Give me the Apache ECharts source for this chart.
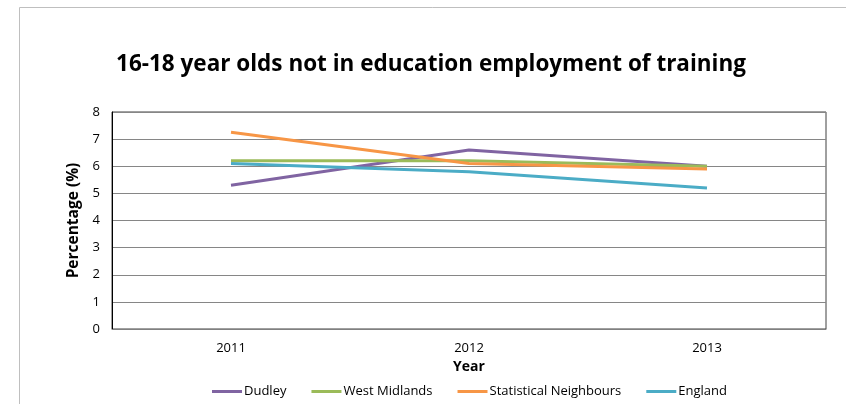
<!DOCTYPE html>
<html>
<head>
<meta charset="utf-8">
<script src="https://cdn.jsdelivr.net/npm/echarts@6/dist/echarts.min.js"></script>
<style>
html,body{margin:0;padding:0;background:#fff;}
#c{width:846px;height:404px;}
</style>
</head>
<body>
<div id="c"></div>
<script>
var years = ['2011', '2012', '2013'];
var dudley = [5.3, 6.6, 6.0];
var westMidlands = [6.2, 6.2, 6.0];
var statNeighbours = [7.25, 6.1, 5.9];
var england = [6.1, 5.8, 5.2];
var seriesNames = ['Dudley', 'West Midlands', 'Statistical Neighbours', 'England'];
var seriesColors = ['#8064A2', '#9BBB59', '#F79646', '#4BACC6'];
var yTicks = [0, 1, 2, 3, 4, 5, 6, 7, 8];

var font = 'Open Sans, Liberation Sans, sans-serif';
var chart = echarts.init(document.getElementById('c'), null, {renderer: 'canvas'});
var data = [dudley, westMidlands, statNeighbours, england];
chart.setOption({
  animation: false,
  backgroundColor: '#fff',
  graphic: [{
    type: 'polyline',
    shape: {points: [[19.5, 404], [19.5, 7.5], [846, 7.5]]},
    style: {stroke: '#BFBFBF', lineWidth: 1, fill: null}
  }],
  title: {
    text: '16-18 year olds not in education employment of training',
    left: 426, top: 48, textAlign: 'center',
    textStyle: {fontFamily: font, fontWeight: 'bold', fontSize: 22.5, color: '#000'}
  },
  legend: {
    data: seriesNames,
    left: 207, top: 380,
    itemWidth: 30, itemHeight: 3, itemGap: 25,
    icon: 'rect',
    textStyle: {fontFamily: font, fontSize: 13, color: '#000', padding: [0, 0, 0, -3]}
  },
  grid: {left: 112, top: 112, right: 20, bottom: 75, show: true, borderColor: '#404040', borderWidth: 1},
  xAxis: {
    type: 'category', data: years, boundaryGap: true,
    name: 'Year', nameLocation: 'middle', nameGap: 31,
    nameTextStyle: {fontFamily: font, fontWeight: 'bold', fontSize: 14, color: '#000'},
    axisLine: {show: true, lineStyle: {color: '#808080'}},
    axisTick: {show: false},
    axisLabel: {fontFamily: font, fontSize: 13, color: '#000', margin: 13}
  },
  yAxis: {
    type: 'value', min: yTicks[0], max: yTicks[yTicks.length - 1], interval: 1,
    name: 'Percentage (%)', nameLocation: 'middle', nameGap: 25,
    nameTextStyle: {fontFamily: font, fontWeight: 'bold', fontSize: 15.5, color: '#000'},
    axisLine: {show: true, lineStyle: {color: '#000'}},
    axisTick: {show: false},
    axisLabel: {fontFamily: font, fontSize: 13, color: '#000', margin: 12},
    splitLine: {lineStyle: {color: '#868686', width: 1}}
  },
  series: seriesNames.map(function (n, i) {
    return {
      name: n, type: 'line', data: data[i],
      symbol: 'none', color: seriesColors[i],
      lineStyle: {width: 3, color: seriesColors[i]}
    };
  })
});
</script>
</body>
</html>
